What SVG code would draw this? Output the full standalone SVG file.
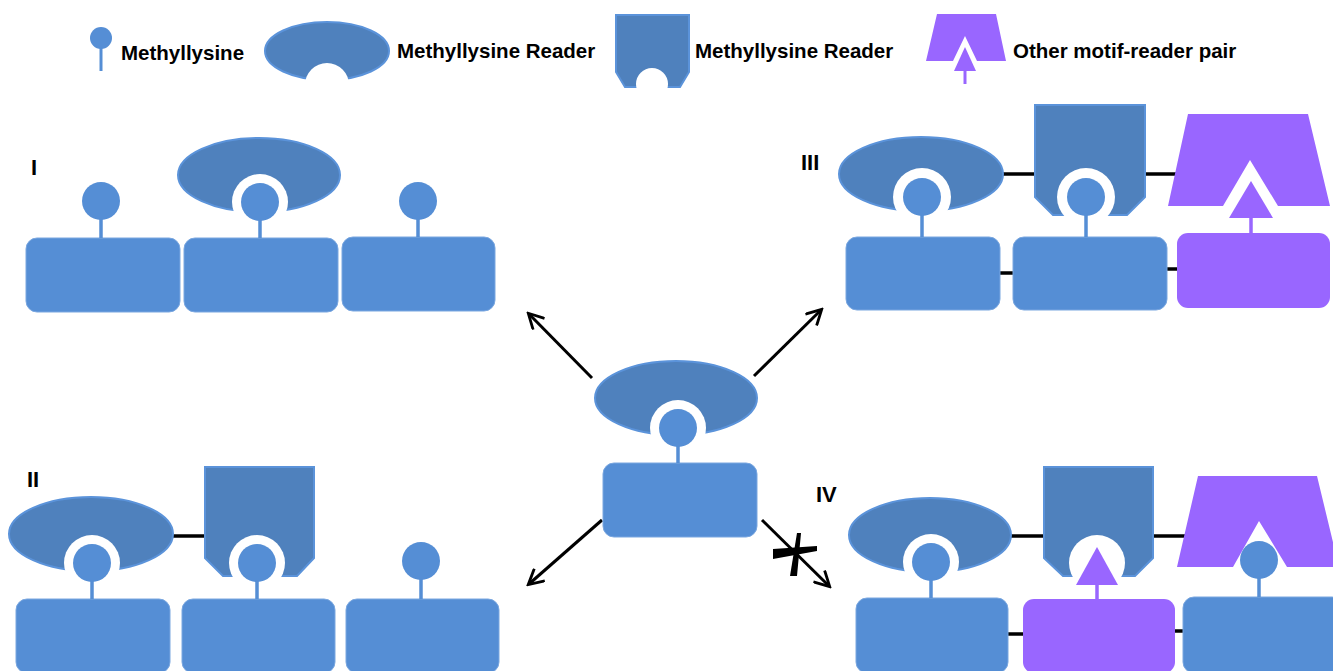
<svg xmlns="http://www.w3.org/2000/svg" width="1333" height="671" viewBox="0 0 1333 671">
<style>
.rect{fill:#558ED5;stroke:#7AA7E0;stroke-width:1}
.reader{fill:#4F81BD;stroke:#5B93DA;stroke-width:2}
.purple{fill:#9966FF}
.head{fill:#558ED5}
.stem{stroke:#558ED5;stroke-width:3.5}
.pstem{stroke:#9966FF;stroke-width:3.5}
.gap{fill:#FFFFFF}
.link{stroke:#000;stroke-width:3.5}
.arrow{stroke:#000;stroke-width:3;fill:none;marker-end:url(#ah)}
.lbl{font-family:"Liberation Sans",Arial,sans-serif;font-weight:bold;font-size:20.5px;fill:#000}
.plbl{font-family:"Liberation Sans",Arial,sans-serif;font-weight:bold;font-size:22px;fill:#000}
</style>
<defs>
<marker id="ah" viewBox="0 0 18 18" refX="15" refY="9" markerWidth="18" markerHeight="18" orient="auto" markerUnits="userSpaceOnUse">
<path d="M1,1 L16,9 L1,17" fill="none" stroke="#000" stroke-width="2.8"/>
</marker>
</defs>
<rect width="1333" height="671" fill="#FFFFFF"/>

<g id="legend">
<g id="legend-methyllysine">
<line class="stem" x1="101" y1="48" x2="101" y2="71" style="stroke-width:3"/>
<circle class="head" cx="101" cy="38" r="11"/>
<text class="lbl" x="121" y="60">Methyllysine</text>
</g>
<g id="legend-reader-ellipse">
<ellipse class="reader" cx="327" cy="51" rx="62" ry="29"/>
<circle class="gap" cx="327" cy="85" r="22"/>
<text class="lbl" x="397" y="58">Methyllysine Reader</text>
</g>
<g id="legend-reader-pentagon">
<path class="reader" d="M616,15 H689 V72 L680,87 H625 L616,72 Z"/>
<circle class="gap" cx="652" cy="84" r="16"/>
<text class="lbl" x="695" y="58">Methyllysine Reader</text>
</g>
<g id="legend-other">
<path class="purple" d="M937,14 H996 L1006,61 H977 L965,36 L953,61 H926 Z"/>
<path class="purple" d="M965,47 L976,71 H954 Z"/>
<line class="pstem" x1="965" y1="71" x2="965" y2="84" style="stroke-width:3"/>
<text class="lbl" x="1013" y="58">Other motif-reader pair</text>
</g>
</g>

<g id="connectors">
<line class="arrow" x1="592" y1="378" x2="529" y2="314"/>
<line class="arrow" x1="754" y1="376" x2="821" y2="310"/>
<line class="arrow" x1="602" y1="520" x2="529" y2="584"/>
<line class="arrow" x1="762" y1="520" x2="829" y2="586"/>
<polygon points="773,549 817,546 817,551 773,559" fill="#000"/>
<polygon points="797,533 801,533 797,576 790,576" fill="#000"/>
<line class="link" x1="1003" y1="174" x2="1036" y2="174"/>
<line class="link" x1="1145" y1="174" x2="1176" y2="174"/>
<line class="link" x1="1000" y1="273" x2="1013" y2="273"/>
<line class="link" x1="1167" y1="269" x2="1177" y2="269"/>
<line class="link" x1="173" y1="536" x2="206" y2="536"/>
<line class="link" x1="1011" y1="536" x2="1045" y2="536"/>
<line class="link" x1="1153" y1="536" x2="1186" y2="536"/>
<line class="link" x1="1008" y1="634" x2="1023" y2="634"/>
<line class="link" x1="1175" y1="631" x2="1184" y2="631"/>
</g>

<g id="center">
<rect class="rect" x="603" y="463" width="154" height="74" rx="11"/>
<ellipse class="reader" cx="676" cy="398" rx="81" ry="37"/>
<circle class="gap" cx="678" cy="428" r="28"/>
<line class="stem" x1="678" y1="440" x2="678" y2="463"/>
<circle class="head" cx="678" cy="428" r="19"/>
</g>

<g id="panel-I">
<text class="plbl" x="31" y="175">I</text>
<rect class="rect" x="26" y="238" width="154" height="74" rx="11"/>
<rect class="rect" x="184" y="238" width="154" height="74" rx="11"/>
<rect class="rect" x="342" y="237" width="153" height="74" rx="11"/>
<ellipse class="reader" cx="259" cy="175" rx="81" ry="37"/>
<circle class="gap" cx="260" cy="202" r="28"/>
<line class="stem" x1="101" y1="212" x2="101" y2="238"/>
<circle class="head" cx="101" cy="201" r="19"/>
<line class="stem" x1="260" y1="212" x2="260" y2="238"/>
<circle class="head" cx="260" cy="202" r="19"/>
<line class="stem" x1="418" y1="212" x2="418" y2="237"/>
<circle class="head" cx="418" cy="201" r="19"/>
</g>

<g id="panel-II">
<text class="plbl" x="27" y="487">II</text>
<rect class="rect" x="16" y="599" width="154" height="74" rx="11"/>
<rect class="rect" x="182" y="599" width="153" height="74" rx="11"/>
<rect class="rect" x="346" y="599" width="153" height="74" rx="11"/>
<ellipse class="reader" cx="91" cy="534" rx="82" ry="37"/>
<circle class="gap" cx="92" cy="563" r="28"/>
<path class="reader" d="M205,467 H314 V558 L297,576 H223 L205,558 Z"/>
<circle class="gap" cx="257" cy="563" r="28"/>
<line class="stem" x1="92" y1="575" x2="92" y2="599"/>
<circle class="head" cx="92" cy="563" r="19"/>
<line class="stem" x1="257" y1="575" x2="257" y2="599"/>
<circle class="head" cx="257" cy="563" r="19"/>
<line class="stem" x1="421" y1="573" x2="421" y2="599"/>
<circle class="head" cx="421" cy="561" r="19"/>
</g>

<g id="panel-III">
<text class="plbl" x="801" y="170">III</text>
<rect class="rect" x="846" y="237" width="154" height="73" rx="11"/>
<rect class="rect" x="1013" y="237" width="154" height="73" rx="11"/>
<rect class="purple" x="1177" y="233" width="153" height="75" rx="11"/>
<ellipse class="reader" cx="921" cy="174" rx="82" ry="37"/>
<circle class="gap" cx="922" cy="197" r="29"/>
<path class="reader" d="M1035,105 H1145 V197 L1127,215 H1053 L1035,197 Z"/>
<circle class="gap" cx="1086" cy="197" r="29"/>
<path class="purple" d="M1188,114 H1308 L1330,206 H1278 L1250,160 L1223,206 H1168 Z"/>
<line class="stem" x1="922" y1="210" x2="922" y2="237"/>
<circle class="head" cx="922" cy="197" r="19"/>
<line class="stem" x1="1086" y1="210" x2="1086" y2="237"/>
<circle class="head" cx="1086" cy="197" r="19"/>
<path class="purple" d="M1251,181 L1273,218 H1229 Z"/>
<line class="pstem" x1="1251" y1="217" x2="1251" y2="234"/>
</g>

<g id="panel-IV">
<text class="plbl" x="816" y="502">IV</text>
<rect class="rect" x="856" y="598" width="152" height="75" rx="11"/>
<rect class="purple" x="1023" y="599" width="152" height="74" rx="11"/>
<rect class="rect" x="1183" y="597" width="160" height="76" rx="11"/>
<ellipse class="reader" cx="930" cy="535" rx="81" ry="37"/>
<circle class="gap" cx="931" cy="562" r="28"/>
<path class="reader" d="M1044,467 H1153 V558 L1135,576 H1063 L1044,558 Z"/>
<circle class="gap" cx="1097" cy="563" r="28"/>
<path class="purple" d="M1198,476 H1317 L1339,567 H1287 L1259,521 L1233,567 H1177 Z"/>
<line class="stem" x1="931" y1="574" x2="931" y2="598"/>
<circle class="head" cx="931" cy="562" r="19"/>
<path class="purple" d="M1097,547 L1118,585 H1076 Z"/>
<line class="pstem" x1="1097" y1="584" x2="1097" y2="599"/>
<line class="stem" x1="1259" y1="572" x2="1259" y2="597"/>
<circle class="head" cx="1259" cy="560" r="19"/>
</g>
</svg>
